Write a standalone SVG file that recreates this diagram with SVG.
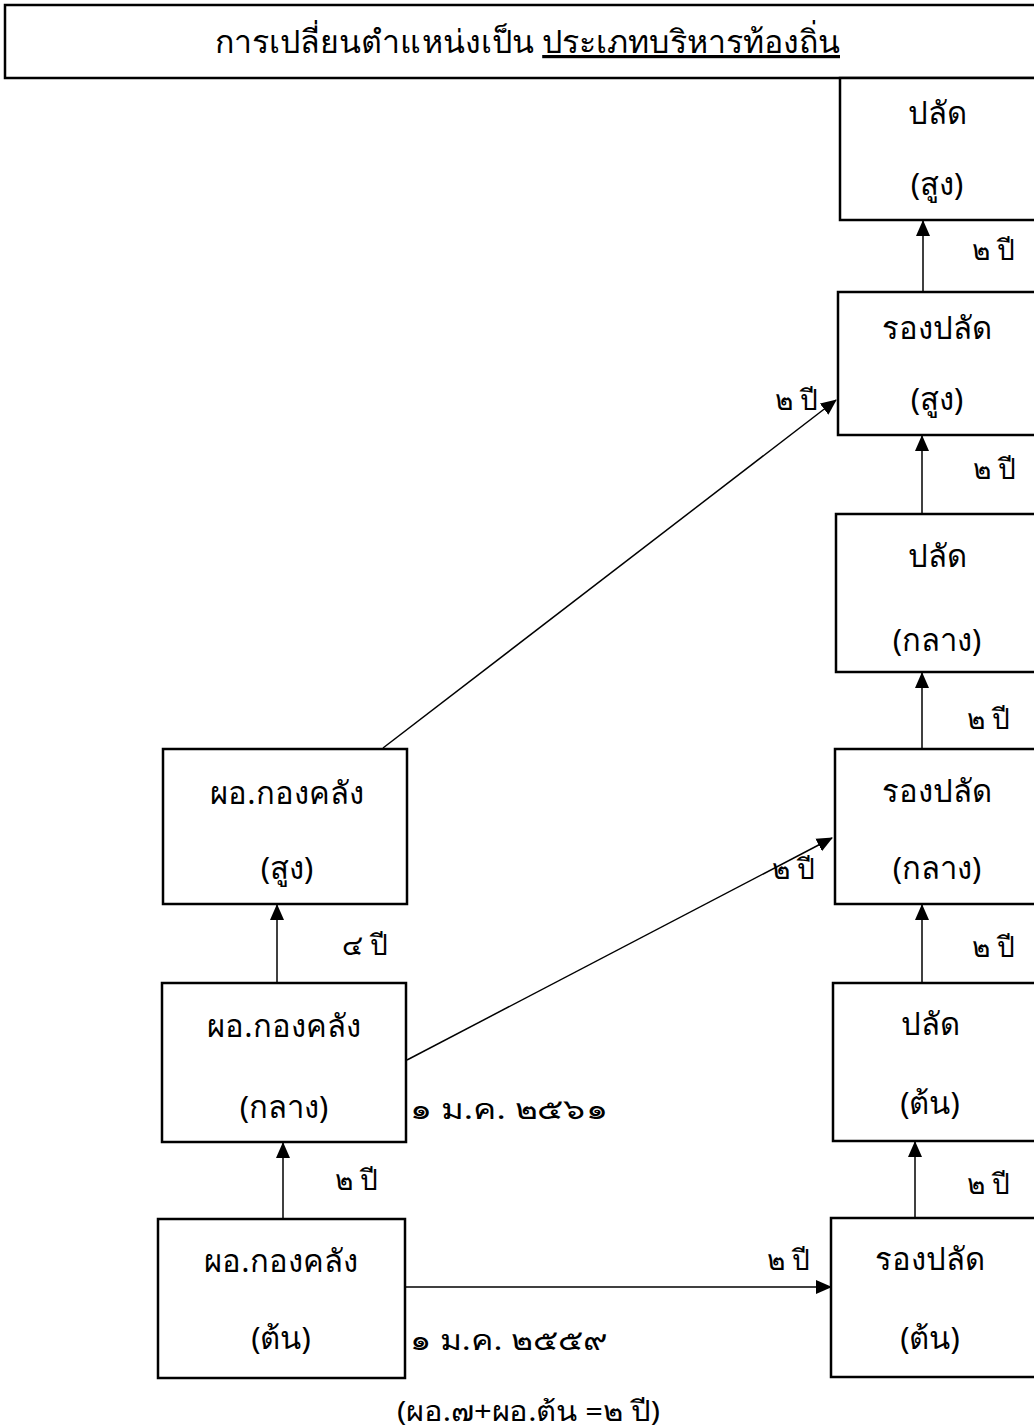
<svg xmlns="http://www.w3.org/2000/svg" width="1034" height="1428" viewBox="0 0 1034 1428">
<style>
.box{fill:#fff;stroke:#000;stroke-width:2.5}
.t{font-family:"Noto Sans","Liberation Sans",sans-serif;font-size:31px;fill:#000;text-anchor:middle}
.l{font-family:"Noto Sans","Liberation Sans",sans-serif;font-size:28px;fill:#000}
.c{stroke:#000;stroke-width:1.5;fill:none}
</style>
<defs>
<marker id="ahs" markerWidth="16" markerHeight="16" refX="15" refY="7" orient="auto" markerUnits="userSpaceOnUse" viewBox="0 0 16 14">
<path d="M0,0 L16,7 L0,14 Z" fill="#000"/>
</marker>
</defs>
<g id="title">
<rect x="5" y="5" width="1040" height="73" class="box"/>
<text x="215" y="53" class="l" style="font-size:32px" textLength="625" lengthAdjust="spacingAndGlyphs">การเปลี่ยนตำแหน่งเป็น <tspan text-decoration="underline">ประเภทบริหารท้องถิ่น</tspan></text>
</g>
<g id="connectors">
<line x1="923" y1="292" x2="923" y2="221" class="c" marker-end="url(#ahs)"/>
<line x1="922" y1="513" x2="922" y2="436" class="c" marker-end="url(#ahs)"/>
<line x1="922" y1="748" x2="922" y2="673" class="c" marker-end="url(#ahs)"/>
<line x1="922" y1="983" x2="922" y2="905" class="c" marker-end="url(#ahs)"/>
<line x1="915" y1="1218" x2="915" y2="1142" class="c" marker-end="url(#ahs)"/>
<line x1="277" y1="983" x2="277" y2="905" class="c" marker-end="url(#ahs)"/>
<line x1="283" y1="1219" x2="283" y2="1143" class="c" marker-end="url(#ahs)"/>
<line x1="405" y1="1287" x2="831" y2="1287" class="c" marker-end="url(#ahs)"/>
<line x1="407" y1="1060" x2="832" y2="838" class="c" marker-end="url(#ahs)"/>
<line x1="383" y1="748" x2="836" y2="400" class="c" marker-end="url(#ahs)"/>
</g>
<g id="n-palad-sung">
<rect x="840" y="78" width="200" height="142" class="box"/>
<text x="937" y="124" class="t">ปลัด</text>
<text x="937" y="195" class="t">(สูง)</text>
</g>
<g id="n-rongpalad-sung">
<rect x="838" y="292" width="200" height="143" class="box"/>
<text x="937" y="339" class="t">รองปลัด</text>
<text x="937" y="410" class="t">(สูง)</text>
</g>
<g id="n-palad-klang">
<rect x="836" y="514" width="204" height="158" class="box"/>
<text x="937" y="567" class="t">ปลัด</text>
<text x="937" y="651" class="t">(กลาง)</text>
</g>
<g id="n-rongpalad-klang">
<rect x="835" y="749" width="205" height="155" class="box"/>
<text x="937" y="802" class="t">รองปลัด</text>
<text x="937" y="879" class="t">(กลาง)</text>
</g>
<g id="n-palad-ton">
<rect x="833" y="983" width="207" height="158" class="box"/>
<text x="930" y="1035" class="t">ปลัด</text>
<text x="930" y="1114" class="t">(ต้น)</text>
</g>
<g id="n-rongpalad-ton">
<rect x="831" y="1218" width="209" height="159" class="box"/>
<text x="930" y="1270" class="t">รองปลัด</text>
<text x="930" y="1349" class="t">(ต้น)</text>
</g>
<g id="n-finance-sung">
<rect x="163" y="749" width="244" height="155" class="box"/>
<text x="287" y="804" class="t">ผอ.กองคลัง</text>
<text x="287" y="879" class="t">(สูง)</text>
</g>
<g id="n-finance-klang">
<rect x="162" y="983" width="244" height="159" class="box"/>
<text x="284" y="1037" class="t">ผอ.กองคลัง</text>
<text x="284" y="1118" class="t">(กลาง)</text>
</g>
<g id="n-finance-ton">
<rect x="158" y="1219" width="247" height="159" class="box"/>
<text x="281" y="1272" class="t">ผอ.กองคลัง</text>
<text x="281" y="1349" class="t">(ต้น)</text>
</g>
<g id="labels">
<text x="972" y="260" class="l">๒ ปี</text>
<text x="973" y="479" class="l">๒ ปี</text>
<text x="967" y="729" class="l">๒ ปี</text>
<text x="972" y="957" class="l">๒ ปี</text>
<text x="967" y="1194" class="l">๒ ปี</text>
<text x="775" y="410" class="l">๒ ปี</text>
<text x="772" y="879" class="l">๒ ปี</text>
<text x="767" y="1270" class="l">๒ ปี</text>
<text x="342" y="955" class="l">๔ ปี</text>
<text x="335" y="1190" class="l">๒ ปี</text>
<text x="410" y="1119" class="l" textLength="198" lengthAdjust="spacingAndGlyphs">๑ ม.ค. ๒๕๖๑</text>
<text x="410" y="1350" class="l" textLength="198" lengthAdjust="spacingAndGlyphs">๑ ม.ค. ๒๕๕๙</text>
<text x="397" y="1421" class="l" textLength="263" lengthAdjust="spacingAndGlyphs">(ผอ.๗+ผอ.ต้น =๒ ปี)</text>
</g>
</svg>
